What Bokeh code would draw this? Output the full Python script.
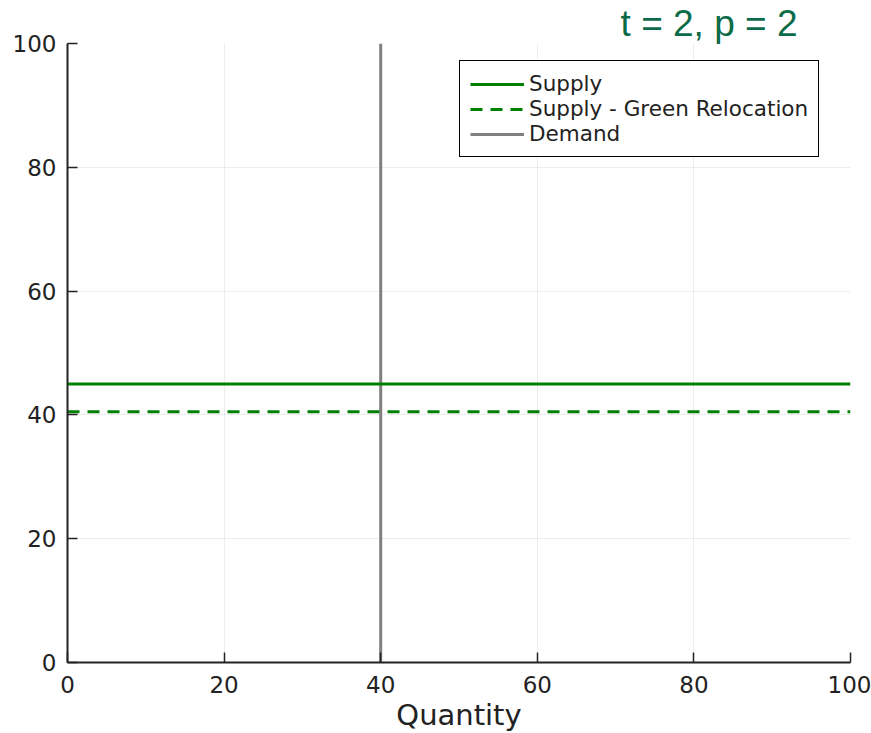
from bokeh.plotting import figure
from bokeh.models import Legend, LegendItem, Title, Range1d, FixedTicker
from bokeh.embed import file_html
from bokeh.resources import INLINE

# ---- data ----
quantity = [0, 100]
supply = [45, 45]
supply_green = [40.5, 40.5]
demand_q = [40, 40]
demand_p = [0, 100]
ticks = [0, 20, 40, 60, 80, 100]
title_text = "t = 2, p = 2"

p = figure(frame_width=783, frame_height=619, min_border_left=67, min_border_right=21,
           min_border_top=43, min_border_bottom=0,
           x_range=Range1d(0, 100), y_range=Range1d(0, 100),
           output_backend="svg", toolbar_location=None)
p.outline_line_color = None
p.background_fill_color = "white"

p.title = Title(text=title_text, align="right", offset=53, standoff=0,
                text_font="Liberation Sans", text_font_size="37px",
                text_font_style="normal", text_color="#0b6b48")

tick_font = "DejaVu Sans"
for ax in (p.xaxis[0], p.yaxis[0]):
    ax.ticker = FixedTicker(ticks=ticks)
    ax.major_tick_in = 10
    ax.major_tick_out = 0
    ax.minor_tick_in = 0
    ax.minor_tick_out = 0
    ax.axis_line_color = "#222222"
    ax.axis_line_width = 2
    ax.major_tick_line_color = "#222222"
    ax.major_tick_line_width = 1.5
    ax.major_label_text_font = tick_font
    ax.major_label_text_font_size = "23px"
    ax.major_label_text_color = "#222222"
    ax.major_label_standoff = 11
p.xaxis.major_label_standoff = 13

p.xaxis.axis_label = "Quantity"
p.xaxis.axis_label_text_font = tick_font
p.xaxis.axis_label_text_font_size = "29px"
p.xaxis.axis_label_text_font_style = "normal"
p.xaxis.axis_label_text_color = "#222222"
p.xaxis.axis_label_standoff = 2

p.grid.ticker = FixedTicker(ticks=ticks)
p.grid.grid_line_color = "#000000"
p.grid.grid_line_alpha = 0.07
p.grid.grid_line_width = 1

r_demand = p.line(demand_q, demand_p, line_color="#808080", line_width=3)
r_supply = p.line(quantity, supply, line_color="#008000", line_width=3)
r_green = p.line(quantity, supply_green, line_color="#008000", line_width=3, line_dash="12 8")

legend = Legend(items=[
    LegendItem(label="Supply", renderers=[r_supply]),
    LegendItem(label="Supply - Green Relocation", renderers=[r_green]),
    LegendItem(label="Demand", renderers=[r_demand]),
], location=(392, 505))
legend.label_text_font = tick_font
legend.label_text_font_size = "21.5px"
legend.label_text_color = "#222222"
legend.glyph_width = 54
legend.glyph_height = 24
legend.label_height = 24
legend.label_standoff = 5
legend.spacing = 0
legend.padding = 10
legend.margin = 0
legend.border_line_color = "black"
legend.border_line_alpha = 1
legend.border_line_width = 1.5
legend.background_fill_alpha = 1
p.add_layout(legend)

open("out.html", "w").write(file_html(p, INLINE))
